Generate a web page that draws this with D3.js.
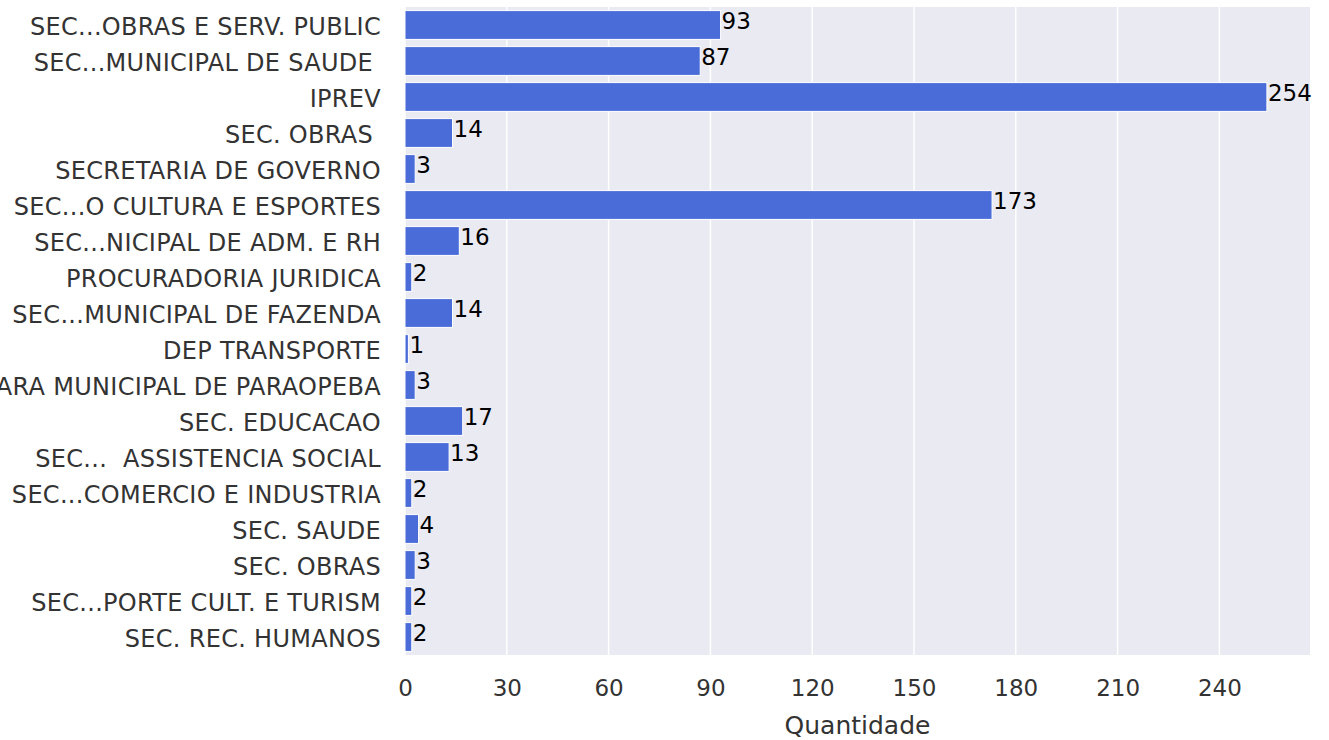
<!DOCTYPE html>
<html>
<head>
<meta charset="utf-8">
<script src="https://cdn.jsdelivr.net/npm/d3@7"></script>
<style>
  html, body { margin: 0; padding: 0; background: #ffffff; }
  svg { display: block; }
  text { font-family: "DejaVu Sans", sans-serif; }
</style>
</head>
<body>
<svg id="chart" width="1329" height="740"></svg>
<script>
const categories = [
  "SEC...OBRAS E SERV. PUBLIC",
  "SEC...MUNICIPAL DE SAUDE ",
  "IPREV",
  "SEC. OBRAS ",
  "SECRETARIA DE GOVERNO",
  "SEC...O CULTURA E ESPORTES",
  "SEC...NICIPAL DE ADM. E RH",
  "PROCURADORIA JURIDICA",
  "SEC...MUNICIPAL DE FAZENDA",
  "DEP TRANSPORTE",
  "CAMARA MUNICIPAL DE PARAOPEBA",
  "SEC. EDUCACAO",
  "SEC...  ASSISTENCIA SOCIAL",
  "SEC...COMERCIO E INDUSTRIA",
  "SEC. SAUDE",
  "SEC. OBRAS",
  "SEC...PORTE CULT. E TURISM",
  "SEC. REC. HUMANOS"
];
const values = [93, 87, 254, 14, 3, 173, 16, 2, 14, 1, 3, 17, 13, 2, 4, 3, 2, 2];
const xTicks = [0, 30, 60, 90, 120, 150, 180, 210, 240];
const xLabel = "Quantidade";

const margin = {left: 405, right: 19, top: 7, bottom: 85};
const W = 1329, H = 740;
const pw = W - margin.left - margin.right;
const ph = H - margin.top - margin.bottom;

const svg = d3.select("#chart");
const g = svg.append("g").attr("transform", `translate(${margin.left},${margin.top})`);

const x = d3.scaleLinear().domain([0, d3.max(values) * 1.05]).range([0, pw]);
const y = d3.scaleBand().domain(d3.range(categories.length)).range([0, ph]).paddingInner(0.2).paddingOuter(0.1);

g.append("rect").attr("width", pw).attr("height", ph).attr("fill", "#eaeaf2");

g.selectAll("line.grid").data(xTicks).enter().append("line")
  .attr("class", "grid")
  .attr("x1", d => x(d)).attr("x2", d => x(d))
  .attr("y1", 0).attr("y2", ph)
  .attr("stroke", "#ffffff").attr("stroke-width", 1.5);

g.selectAll("rect.bar").data(values).enter().append("rect")
  .attr("class", "bar")
  .attr("x", x(0))
  .attr("y", (d, i) => y(i))
  .attr("width", d => x(d) - x(0))
  .attr("height", y.bandwidth())
  .attr("fill", "#4a6cd9")
  .attr("stroke", "#ffffff").attr("stroke-width", 1);

g.selectAll("text.val").data(values).enter().append("text")
  .attr("class", "val")
  .attr("x", d => x(d) + 1)
  .attr("y", (d, i) => y(i) + y.bandwidth() / 2 + 3.5)
  .attr("font-size", 23)
  .attr("fill", "#000")
  .text(d => d);

// y axis
const yAxis = d3.axisLeft(y).tickSize(0).tickPadding(24).tickFormat(i => categories[i]);
const ya = g.append("g").call(yAxis);
ya.select(".domain").remove();
ya.selectAll("text")
  .attr("font-size", 24)
  .attr("fill", "#333333")
  .attr("dy", "0.42em")
  .style("letter-spacing", "0.3px")
  .style("white-space", "pre")
  .style("font-family", "DejaVu Sans, sans-serif");

// x axis
const xAxis = d3.axisBottom(x).tickValues(xTicks).tickSize(0).tickPadding(25);
const xa = g.append("g").attr("transform", `translate(0,${ph})`).call(xAxis);
xa.select(".domain").remove();
xa.selectAll("text")
  .attr("font-size", 23)
  .attr("fill", "#333333")
  .style("font-family", "DejaVu Sans, sans-serif");

svg.append("text")
  .attr("x", margin.left + x(254 * 1.05) / 2)
  .attr("y", 734)
  .attr("text-anchor", "middle")
  .attr("font-size", 25)
  .attr("fill", "#333333")
  .text(xLabel);
</script>
</body>
</html>
